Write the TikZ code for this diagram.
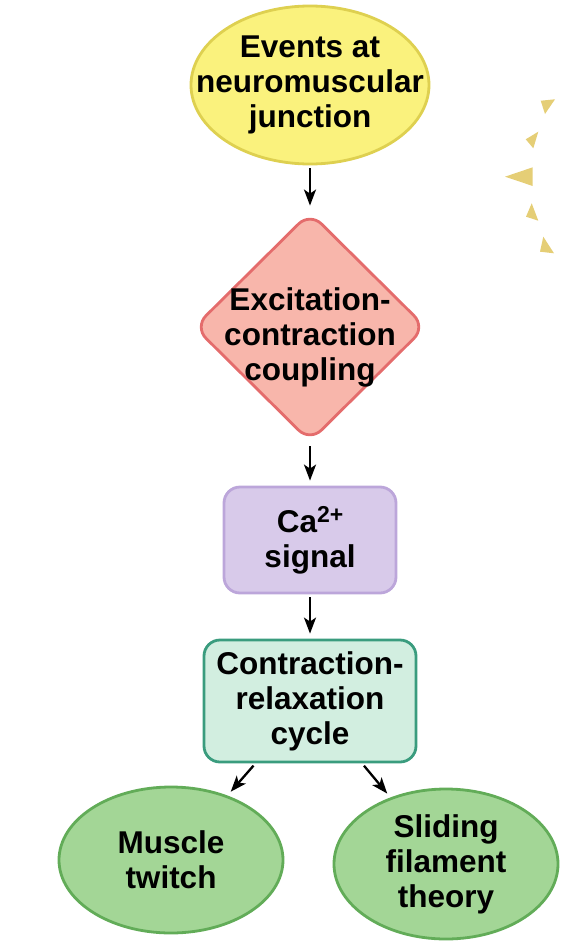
\documentclass[tikz,border=0pt]{standalone}
\usepackage{fontspec}
\setmainfont{Liberation Sans}
\usetikzlibrary{shapes.geometric,arrows.meta}
\definecolor{evfill}{RGB}{250,242,125}
\definecolor{evdraw}{RGB}{222,208,80}
\definecolor{ecfill}{RGB}{248,182,171}
\definecolor{ecdraw}{RGB}{228,108,108}
\definecolor{cafill}{RGB}{216,202,234}
\definecolor{cadraw}{RGB}{188,166,218}
\definecolor{crfill}{RGB}{210,238,224}
\definecolor{crdraw}{RGB}{58,156,126}
\definecolor{mtfill}{RGB}{163,214,150}
\definecolor{mtdraw}{RGB}{98,172,88}
\definecolor{trifill}{RGB}{229,206,118}
\begin{document}
\begin{tikzpicture}[>={Stealth[length=16bp,width=12bp,inset=4bp]},line join=bevel,
  stage/.style={align=center,line width=2.8bp,font=\bfseries\fontsize{31.5bp}{35bp}\selectfont},
  flow/.style={black,->,line width=2.3bp,shorten <=3bp,shorten >=5bp}]
%%
\useasboundingbox (0bp,0bp) rectangle (564bp,-948bp);
\node (node_0) at (310bp,-85bp) [stage,ellipse,draw=evdraw,fill=evfill,minimum width=238bp,minimum height=158bp,inner sep=-40bp] {Events at\\neuromuscular\\junction};
  \node (node_1) at (310bp,-327bp) [stage,diamond,rounded corners=16bp,draw=ecdraw,fill=ecfill,minimum width=232bp,minimum height=230bp,inner sep=-28bp,text height=113bp] {Excitation-\\contraction\\coupling};
  \node (node_2) at (310bp,-540bp) [stage,rectangle,rounded corners=16bp,draw=cadraw,fill=cafill,minimum width=172bp,minimum height=106bp] {Ca\raisebox{10bp}{\fontsize{23bp}{23bp}\selectfont 2+}\\signal};
  \node (node_3) at (310bp,-701bp) [stage,rectangle,rounded corners=16bp,draw=crdraw,fill=crfill,minimum width=212bp,minimum height=122bp,inner sep=0bp] {Contraction-\\relaxation\\cycle};
  \node (node_4) at (171bp,-860bp) [stage,ellipse,draw=mtdraw,fill=mtfill,minimum width=224bp,minimum height=146bp,inner sep=-40bp] {Muscle\\twitch};
  \node (node_5) at (446bp,-864bp) [stage,ellipse,draw=mtdraw,fill=mtfill,minimum width=224bp,minimum height=150bp,inner sep=-40bp] {Sliding\\filament\\theory};
  \draw [flow] (node_0) -- (node_1);
  \draw [flow] (node_1) -- (node_2);
  \draw [flow] (node_2) -- (node_3);
  \draw [flow] (node_3) -- (node_4);
  \draw [flow] (node_3) -- (node_5);
%
\fill [trifill] (540.7bp,-100.7bp) -- (555bp,-99.3bp) -- (545bp,-114bp) -- cycle;
  \fill [trifill] (538.3bp,-131.7bp) -- (525.7bp,-139.3bp) -- (533.3bp,-148.3bp) -- cycle;
  \fill [trifill] (505bp,-176.7bp) -- (532.7bp,-167.3bp) -- (532.7bp,-186bp) -- cycle;
  \fill [trifill] (531.7bp,-203.3bp) -- (526bp,-216.7bp) -- (538.3bp,-220.7bp) -- cycle;
  \fill [trifill] (543.3bp,-236.7bp) -- (540bp,-251.7bp) -- (554bp,-253.3bp) -- cycle;
%
\end{tikzpicture}
\end{document}
